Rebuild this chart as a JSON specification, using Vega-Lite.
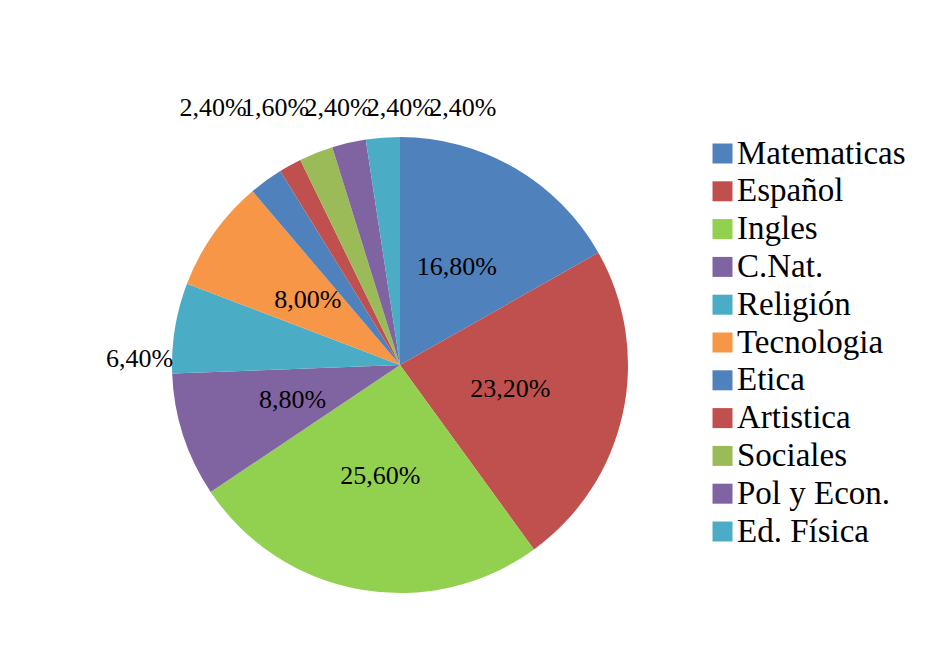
{
  "$schema": "https://vega.github.io/schema/vega-lite/v6.json",
  "width": 456,
  "height": 456,
  "autosize": {"type": "none"},
  "padding": {"left": 172, "top": 137, "right": 307, "bottom": 75},
  "background": "white",
  "config": {
    "view": {"stroke": null},
    "font": "Liberation Serif",
    "locale": {"number": {"decimal": ",", "thousands": ".", "grouping": [3], "currency": ["", " €"]}}
  },
  "data": {
    "values": [
      {"n": 1, "asignatura": "Matematicas", "pct": 0.168},
      {"n": 2, "asignatura": "Español", "pct": 0.232},
      {"n": 3, "asignatura": "Ingles", "pct": 0.256},
      {"n": 4, "asignatura": "C.Nat.", "pct": 0.088},
      {"n": 5, "asignatura": "Religión", "pct": 0.064},
      {"n": 6, "asignatura": "Tecnologia", "pct": 0.08},
      {"n": 7, "asignatura": "Etica", "pct": 0.024},
      {"n": 8, "asignatura": "Artistica", "pct": 0.016},
      {"n": 9, "asignatura": "Sociales", "pct": 0.024},
      {"n": 10, "asignatura": "Pol y Econ.", "pct": 0.024},
      {"n": 11, "asignatura": "Ed. Física", "pct": 0.024}
    ]
  },
  "layer": [
    {
      "mark": {"type": "arc"},
      "encoding": {
        "theta": {"field": "pct", "type": "quantitative", "stack": true},
        "order": {"field": "n", "type": "quantitative"},
        "color": {
          "field": "asignatura",
          "type": "nominal",
          "sort": null,
          "scale": {
            "domain": ["Matematicas", "Español", "Ingles", "C.Nat.", "Religión", "Tecnologia", "Etica", "Artistica", "Sociales", "Pol y Econ.", "Ed. Física"],
            "range": ["#4F81BD", "#C0504D", "#92D050", "#8064A2", "#4BACC6", "#F79646", "#4F81BD", "#C0504D", "#9BBB59", "#8064A2", "#4BACC6"]
          },
          "legend": {
            "title": null,
            "orient": "right",
            "offset": 78,
            "labelFont": "Liberation Serif",
            "labelFontSize": 33,
            "labelColor": "black",
            "labelLimit": 400,
            "labelOffset": -2,
            "symbolType": "square",
            "symbolSize": 400,
            "symbolStrokeWidth": 0,
            "rowPadding": 3.8
          }
        }
      }
    },
    {
      "mark": {"type": "text", "radius": 113, "font": "Liberation Serif", "fontSize": 26, "baseline": "middle", "align": "center"},
      "encoding": {
        "theta": {"field": "pct", "type": "quantitative", "stack": true},
        "order": {"field": "n", "type": "quantitative"},
        "detail": {"field": "asignatura", "type": "nominal"},
        "color": {"value": "black"},
        "text": {"condition": {"test": "datum.pct >= 0.07", "field": "pct", "type": "quantitative", "format": ".2%"}, "value": ""}
      }
    },
    {
      "mark": {"type": "text", "radius": 230, "dy": 31, "font": "Liberation Serif", "fontSize": 26, "baseline": "middle", "align": "right"},
      "encoding": {
        "theta": {"field": "pct", "type": "quantitative", "stack": true},
        "order": {"field": "n", "type": "quantitative"},
        "detail": {"field": "asignatura", "type": "nominal"},
        "color": {"value": "black"},
        "text": {"condition": {"test": "datum.asignatura === 'Religión'", "field": "pct", "type": "quantitative", "format": ".2%"}, "value": ""}
      }
    },
    {
      "transform": [{"filter": "datum.n >= 7"}],
      "mark": {"type": "text", "font": "Liberation Serif", "fontSize": 26, "baseline": "middle", "align": "center"},
      "encoding": {
        "x": {"field": "asignatura", "type": "nominal", "sort": {"field": "n"}, "scale": {"type": "point", "range": [10, 322]}, "axis": null},
        "y": {"value": -29},
        "color": {"value": "black"},
        "text": {"field": "pct", "type": "quantitative", "format": ".2%"}
      }
    }
  ]
}
